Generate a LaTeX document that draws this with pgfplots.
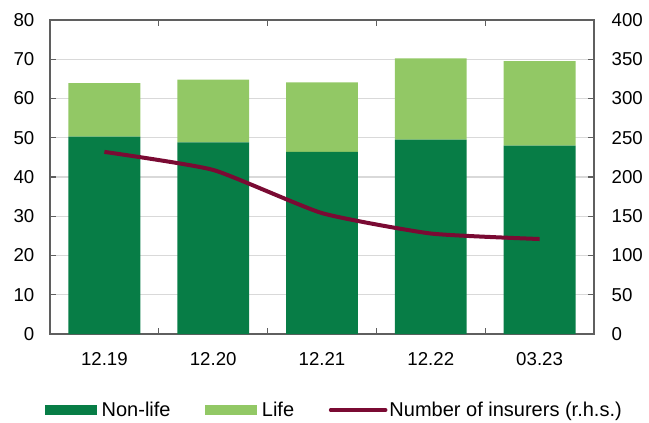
\documentclass[border=0pt]{standalone}
\usepackage{fontspec}
\setmainfont{Liberation Sans}
\usepackage{pgfplots}
\pgfplotsset{compat=1.18}
\definecolor{nonlife}{HTML}{077D46}
\definecolor{life}{HTML}{92C865}
\definecolor{ins}{HTML}{7A0A33}
\definecolor{axgray}{HTML}{5F5F5F}
\definecolor{gridgray}{HTML}{D9D9D9}
\begin{document}
\begin{tikzpicture}
\path[use as bounding box] (-37.5pt,-66pt) rectangle (449.25pt,250.5pt);
\pgfplotsset{
  common/.style={
    width=408pt, height=235.5pt, scale only axis,
    at={(0pt,0pt)}, anchor=south west,
    xmin=-0.5, xmax=4.5,
    axis line style={axgray, line width=1.2pt},
    tick style={axgray, line width=1pt},
    major tick length=4.5pt,
    tick align=inside,
    tick label style={font=\fontsize{14}{16}\selectfont},
    /pgf/number format/assume math mode=true,
  }
}
\begin{axis}[
  common,
  ymin=0, ymax=80,
  ybar stacked, bar width=0.66,
  xtick={0,...,4}, xticklabels={12.19,12.20,12.21,12.22,03.23},
  major x tick style={draw=none},
  extra x ticks={0.5,1.5,2.5,3.5}, extra x tick labels={},
  extra x tick style={grid=none, major x tick style={draw=axgray, line width=1pt}},
  xticklabel style={yshift=-10.5pt},
  ytick={0,10,...,80}, ytick pos=left,
  yticklabel style={xshift=-8.2pt},
  ymajorgrids, grid style={gridgray, line width=0.9pt},
  legend style={at={(-0.0092,-0.242)}, anchor=west, draw=none, fill=none,
    inner sep=0pt, outer sep=0pt,
    legend columns=3, font=\fontsize{15}{17}\selectfont,
    /tikz/every odd column/.append style={column sep=3.5pt},
    /tikz/every even column/.append style={column sep=26pt},
    nodes={inner sep=0pt}},
  legend image code/.code={\fill[#1] (0pt,-4pt) rectangle (39pt,4pt);},
]
\addplot+[fill=nonlife, draw=none] coordinates {(0,50.3) (1,48.8) (2,46.4) (3,49.5) (4,48.0)};
\addlegendentry{Non-life}
\addplot+[fill=life, draw=none] coordinates {(0,13.6) (1,16.0) (2,17.7) (3,20.7) (4,21.5)};
\addlegendentry{Life}
\addlegendimage{legend image code/.code={\draw[ins, line width=3pt, line cap=round] (0pt,0pt) -- (39pt,0pt); \draw[overlay, ins, line width=3pt, line cap=round] (39pt,0pt) -- (41pt,0pt);}}
\addlegendentry{Number of insurers (r.h.s.)}
\end{axis}
\begin{axis}[
  common,
  ymin=0, ymax=400,
  axis y line*=right,
  axis x line=none,
  ytick={0,50,...,400},
  yticklabel style={xshift=9.7pt},
]
\addplot[ins, line width=3pt, smooth, tension=0.3] coordinates {(0,232) (1,209) (2,154) (3,128) (4,121)};
\end{axis}
\end{tikzpicture}
\end{document}
